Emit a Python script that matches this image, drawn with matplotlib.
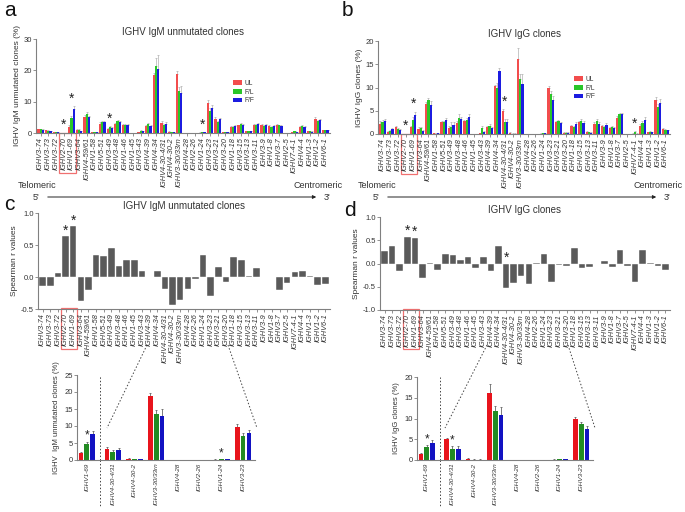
import numpy as np
import matplotlib
matplotlib.use('Agg')
import matplotlib.pyplot as plt
from matplotlib.patches import Rectangle
from matplotlib.lines import Line2D
import matplotlib.transforms as mtransforms

plt.rcParams['font.family'] = ['Liberation Sans', 'DejaVu Sans']

# Gene order, telomeric (5') -> centromeric (3')
genes = ['IGHV3-74', 'IGHV3-73', 'IGHV3-72', 'IGHV2-70', 'IGHV1-69', 'IGHV3-64',
         'IGHV4-59/61', 'IGHV1-58', 'IGHV5-51', 'IGHV3-49', 'IGHV3-48', 'IGHV1-46',
         'IGHV1-45', 'IGHV3-43', 'IGHV4-39', 'IGHV4-34', 'IGHV4-30-4/31', 'IGHV4-30-2',
         'IGHV3-30/33rn', 'IGHV4-28', 'IGHV2-26', 'IGHV1-24', 'IGHV3-23', 'IGHV3-21',
         'IGHV3-20', 'IGHV1-18', 'IGHV3-15', 'IGHV3-13', 'IGHV3-11', 'IGHV3-9',
         'IGHV1-8', 'IGHV3-7', 'IGHV2-5', 'IGHV7-4-1', 'IGHV4-4', 'IGHV1-3',
         'IGHV1-2', 'IGHV6-1']

# IgM unmutated clones (%)
igm_ul = [1.2, 0.8, 0.3, 0.1, 2.0, 1.0, 5.2, 0.2, 3.0, 1.3, 2.8, 2.5, 0.1, 0.2, 2.1,
          18.5, 3.3, 0.4, 18.8, 0.1, 0.1, 0.1, 9.6, 4.6, 0.3, 2.0, 2.4, 0.5, 2.6, 2.7,
          2.2, 2.5, 0.1, 0.2, 1.8, 0.5, 4.6, 0.8]
igm_fl = [1.2, 0.7, 0.2, 0.1, 4.8, 1.0, 6.2, 0.2, 3.5, 1.8, 3.8, 2.5, 0.0, 0.6, 2.8,
          21.5, 2.4, 0.2, 13.4, 0.1, 0.1, 0.2, 7.1, 3.5, 0.3, 2.0, 2.8, 0.5, 2.5, 2.1,
          1.9, 2.4, 0.1, 0.5, 2.2, 0.5, 3.7, 0.8]
igm_ff = [1.0, 0.6, 0.2, 0.1, 7.7, 0.5, 5.0, 0.2, 3.5, 1.6, 3.4, 2.5, 0.0, 0.5, 2.1,
          20.3, 2.8, 0.2, 12.9, 0.1, 0.1, 0.2, 7.9, 4.4, 0.3, 2.2, 2.6, 0.5, 3.0, 2.7,
          2.3, 2.3, 0.1, 0.3, 2.0, 0.4, 4.0, 0.9]
igm_ul_err = [0.2, 0.1, 0.1, 0, 0.4, 0.2, 0.5, 0.1, 0.4, 0.3, 0.4, 0.3, 0, 0.1, 0.3,
              0.8, 0.4, 0.1, 1.0, 0, 0, 0.1, 0.9, 0.4, 0.1, 0.3, 0.3, 0.1, 0.3, 0.3,
              0.3, 0.3, 0, 0.1, 0.3, 0.1, 0.5, 0.1]
igm_fl_err = [0.2, 0.1, 0.1, 0, 0.6, 0.2, 0.5, 0.1, 0.3, 0.3, 0.3, 0.3, 0, 0.2, 0.4,
              2.5, 0.4, 0.1, 1.4, 0, 0, 0.1, 0.8, 0.4, 0.1, 0.3, 0.3, 0.1, 0.3, 0.3,
              0.3, 0.3, 0, 0.1, 0.3, 0.1, 0.4, 0.1]
igm_ff_err = [0.2, 0.1, 0.1, 0, 0.9, 0.1, 0.5, 0.1, 0.3, 0.3, 0.3, 0.3, 0, 0.2, 0.3,
              4.5, 0.7, 0.1, 2.1, 0, 0, 0.1, 1.0, 0.4, 0.1, 0.3, 0.3, 0.1, 0.3, 0.3,
              0.3, 0.3, 0, 0.1, 0.3, 0.1, 0.4, 0.1]

# IgG clones (%)
igg_ul = [2.2, 0.4, 1.4, 0.1, 1.5, 1.1, 6.4, 0.2, 2.6, 1.3, 2.3, 2.8, 0.0, 0.2, 1.6,
          10.3, 5.0, 0.3, 16.1, 0.1, 0.1, 0.1, 9.9, 2.5, 0.3, 1.8, 2.6, 0.5, 2.2, 1.8,
          1.2, 3.5, 0.0, 0.1, 1.8, 0.4, 7.4, 1.1]
igg_fl = [2.5, 0.6, 1.0, 0.1, 3.1, 1.2, 7.3, 0.1, 2.6, 1.6, 3.5, 3.0, 0.0, 1.2, 1.8,
          9.8, 2.6, 0.1, 11.9, 0.1, 0.1, 0.2, 8.6, 2.7, 0.3, 1.6, 2.8, 0.4, 2.8, 1.6,
          1.5, 4.3, 0.0, 0.5, 2.3, 0.5, 5.7, 0.9]
igg_ff = [2.8, 1.0, 0.8, 0.1, 4.0, 0.6, 6.3, 0.2, 3.0, 2.0, 3.2, 3.6, 0.0, 0.5, 1.3,
          13.6, 2.6, 0.1, 10.8, 0.1, 0.1, 0.2, 7.4, 2.3, 0.3, 2.2, 2.4, 0.3, 2.2, 2.0,
          1.2, 4.2, 0.0, 0.1, 3.0, 0.4, 6.6, 0.8]
igg_ul_err = [0.5, 0.2, 0.4, 0, 0.3, 0.3, 0.4, 0.1, 0.3, 0.4, 0.4, 0.3, 0, 0.1, 0.2,
              0.3, 0.3, 0.1, 2.3, 0, 0, 0.1, 0.4, 0.3, 0.1, 0.2, 0.3, 0.2, 0.3, 0.2,
              0.2, 0.3, 0, 0.1, 0.3, 0.1, 0.6, 0.2]
igg_fl_err = [0.5, 0.2, 0.2, 0, 0.5, 0.2, 0.5, 0.1, 0.3, 0.9, 0.8, 0.4, 0, 0.5, 0.3,
              1.2, 0.7, 0.1, 1.0, 0, 0, 0.1, 0.6, 0.3, 0.1, 0.2, 0.4, 0.1, 0.4, 0.2,
              0.3, 0.3, 0, 0.1, 0.4, 0.1, 0.8, 0.1]
igg_ff_err = [0.5, 0.3, 0.2, 0, 0.8, 0.2, 0.8, 0.1, 0.4, 0.5, 0.5, 0.7, 0, 0.2, 0.2,
              0.6, 0.7, 0.1, 2.0, 0, 0, 0.1, 0.8, 0.2, 0.1, 0.3, 0.3, 0.1, 0.3, 0.4,
              0.2, 0.3, 0, 0.1, 0.6, 0.1, 1.0, 0.1]

# Spearman r values
r_igm = [-0.14, -0.14, 0.06, 0.64, 0.79, -0.37, -0.20, 0.34, 0.33, 0.45, 0.17, 0.27,
         0.26, 0.09, 0.0, 0.10, -0.18, -0.44, -0.36, -0.18, -0.03, 0.35, -0.30, 0.15,
         -0.08, 0.31, 0.27, 0.02, 0.14, 0.0, 0.0, -0.20, -0.10, 0.08, 0.09, 0.02,
         -0.12, -0.11]
r_igg = [0.27, 0.37, -0.17, 0.57, 0.55, -0.32, 0.02, -0.13, 0.21, 0.19, 0.07, 0.14,
         -0.10, 0.13, -0.17, 0.38, -0.53, -0.42, -0.26, -0.45, 0.02, 0.21, -0.40, -0.03,
         -0.05, 0.34, -0.10, -0.08, 0.0, 0.06, -0.07, 0.29, -0.06, -0.39, 0.30, 0.01,
         -0.06, -0.13]

# significance marks (gene indices)
stars_igm = [3, 4, 9, 21]
stars_igg = [3, 4, 16, 33]
stars_r_igm = [3, 4]
stars_r_igg = [3, 4, 16]

# zoomed genes for the bottom panels
zoom_idx = [4, 16, 17, 18, 19, 20, 21, 22]
zoom_stars_igm = [4, 21]
zoom_stars_igg = [4, 16]

top_colors = ['#f24d4d', '#29c629', '#1c1ce0']
low_colors = ['#e8141c', '#228b22', '#1212c2']
labels = ['UL', 'F/L', 'F/F']
spine_c = '#808080'
text_c = '#333333'

fig = plt.figure(figsize=(6.85, 5.12), dpi=100)
W, H = 685.0, 512.0


def px_axes(l, t, r, b):
    return fig.add_axes([l / W, 1 - b / H, (r - l) / W, (b - t) / H])


def style(ax, fs=5.5):
    for s in ['top', 'right']:
        ax.spines[s].set_visible(False)
    for s in ['left', 'bottom']:
        ax.spines[s].set_color(spine_c)
        ax.spines[s].set_linewidth(0.8)
    ax.tick_params(colors=spine_c, labelcolor=text_c, labelsize=fs, length=2, width=0.6, pad=1)


def grouped(ax, series, errs, colors, width, offs, x, ecol, capsize, lw):
    for k in range(3):
        ax.bar(x + offs[k], series[k], width, color=colors[k], label=labels[k], zorder=2)
        ax.errorbar(x + offs[k], series[k], yerr=[np.zeros(len(errs[k])), errs[k]],
                    fmt='none', ecolor=ecol, elinewidth=lw, capsize=capsize, capthick=lw, zorder=1)


def red_box(ax, y0, y1):
    tr = mtransforms.blended_transform_factory(ax.transData, ax.transAxes)
    ax.add_patch(Rectangle((2.45, y1), 2.1, y0 - y1, transform=tr, fill=False,
                           edgecolor='#f07070', lw=0.9, clip_on=False))


x = np.arange(len(genes))

# ---- panels a and b ----
top_specs = [
    (36, 39, 330, 133, [igm_ul, igm_fl, igm_ff], [igm_ul_err, igm_fl_err, igm_ff_err],
     30, [0, 10, 20, 30], 'IGHV IgM unmutated clones', 'IGHV IgM unmutated clones (%)',
     stars_igm, (0.66, 0.60)),
    (378, 41, 670, 134, [igg_ul, igg_fl, igg_ff], [igg_ul_err, igg_fl_err, igg_ff_err],
     20, [0, 5, 10, 15, 20], 'IGHV IgG clones', 'IGHV IgG clones (%)',
     stars_igg, (0.66, 0.66)),
]
for l, t, r, b, ser, err, ymax, yt, title, ylab, stars, legpos in top_specs:
    ax = px_axes(l, t, r, b)
    style(ax)
    grouped(ax, ser, err, top_colors, 0.29, [-0.29, 0, 0.29], x, '#b0b0b0', 0.8, 0.5)
    ax.set_xlim(-0.6, len(genes) - 0.4)
    ax.set_ylim(0, ymax)
    ax.set_yticks(yt)
    ax.set_xticks(x)
    ax.set_xticklabels(genes, rotation=90, style='italic', fontsize=5.3)
    ax.set_title(title, fontsize=7, color=text_c, pad=3)
    ax.set_ylabel(ylab, fontsize=6, color=text_c, labelpad=2)
    for i in stars:
        top = max(ser[k][i] + err[k][i] for k in range(3))
        ax.text(i, top + ymax * 0.005, '*', ha='center', va='bottom', fontsize=10, color='#222222')
    ax.legend(loc='upper left', bbox_to_anchor=legpos, frameon=False, fontsize=4.8,
              handlelength=1.3, handleheight=0.7, labelspacing=0.25, borderpad=0,
              handletextpad=0.4, labelcolor=text_c)
    red_box(ax, 0.0, -0.43)

# ---- panels c and d ----
r_specs = [
    (38, 213, 330, 309, r_igm, (-0.5, 1.0), [-0.5, 0.0, 0.5, 1.0], 'IGHV IgM unmutated clones', stars_r_igm),
    (380, 217, 670, 310, r_igg, (-1.0, 1.0), [-1.0, -0.5, 0.0, 0.5, 1.0], 'IGHV IgG clones', stars_r_igg),
]
for l, t, r, b, vals, ylim, yt, title, stars in r_specs:
    ax = px_axes(l, t, r, b)
    style(ax)
    ax.bar(x, vals, 0.86, color='#5a5a5a', edgecolor='white', linewidth=0.3)
    ax.set_xlim(-0.6, len(genes) - 0.4)
    ax.set_ylim(*ylim)
    ax.set_yticks(yt)
    ax.set_yticklabels(['%.1f' % v for v in yt])
    ax.set_xticks(x)
    ax.set_xticklabels(genes, rotation=90, style='italic', fontsize=5.3)
    ax.set_title(title, fontsize=7, color=text_c, pad=3)
    ax.set_ylabel('Spearman r values', fontsize=6, color=text_c, labelpad=2)
    for i in stars:
        yy = max(vals[i], 0) - 0.02
        ax.text(i, yy, '*', ha='center', va='bottom', fontsize=10, color='#222222')
    red_box(ax, 0.01, -0.42)

# ---- telomeric / centromeric arrows ----
for x0 in [0, 340]:
    fig.text((x0 + 18) / W, 1 - 185 / H, 'Telomeric', fontsize=6.5, color=text_c, va='center')
    fig.text((x0 + 343) / W, 1 - 185 / H, 'Centromeric', fontsize=6.5, color=text_c, va='center', ha='right')
    fig.text((x0 + 33) / W, 1 - 197 / H, "5'", fontsize=6.5, color=text_c, va='center')
    fig.text((x0 + 324) / W, 1 - 197 / H, "3'", fontsize=6.5, color=text_c, va='center')
    fig.add_artist(matplotlib.patches.FancyArrowPatch(
        ((x0 + 45) / W, 1 - 197 / H), ((x0 + 319) / W, 1 - 197 / H),
        transform=fig.transFigure, arrowstyle='-|>', mutation_scale=5, lw=0.7, color='#222222'))

# ---- panel labels ----
for lab, px, py in [('a', 4, 11), ('b', 342, 11), ('c', 4, 205), ('d', 344, 210)]:
    fig.text(px / W, 1 - py / H, lab, fontsize=15, va='center', color='#111111')

# ---- bottom zoom panels ----
zpos = np.array([0.0, 1.2, 2.2, 3.2, 4.2, 5.2, 6.2, 7.2])
zlabels = [genes[i] for i in zoom_idx]
bottom_specs = [
    (77, 375, 255, 460, [igm_ul, igm_fl, igm_ff], [igm_ul_err, igm_fl_err, igm_ff_err],
     25, [0, 5, 10, 15, 20, 25], 'IGHV  IgM unmutated clones (%)', zoom_stars_igm,
     [((147, 345), (107, 428)), ((228, 345), (257, 428))]),
    (417, 377, 593, 460, [igg_ul, igg_fl, igg_ff], [igg_ul_err, igg_fl_err, igg_ff_err],
     20, [0, 5, 10, 15, 20], 'IGHV IgG clones (%)', zoom_stars_igg,
     [((487, 345), (445, 428)), ((568, 345), (595, 428))]),
]
for l, t, r, b, ser, err, ymax, yt, ylab, stars, zlines in bottom_specs:
    ax = px_axes(l, t, r, b)
    style(ax, fs=5.5)
    zs = [[s[i] for i in zoom_idx] for s in ser]
    ze = [[e[i] for i in zoom_idx] for e in err]
    grouped(ax, zs, ze, low_colors, 0.22, [-0.27, 0, 0.27], zpos, '#666666', 1.0, 0.6)
    ax.set_xlim(-0.45, 7.75)
    ax.set_ylim(0, ymax)
    ax.set_yticks(yt)
    ax.set_xticks(zpos)
    ax.set_xticklabels(zlabels, rotation=90, style='italic', fontsize=4.6)
    ax.tick_params(axis='x', length=0, pad=2)
    ax.set_ylabel(ylab, fontsize=5.5, color=text_c, labelpad=3)
    ax.axvline(0.6, ymin=0, ymax=1, color='#444444', ls=(0, (1.5, 2)), lw=0.7)
    ax.plot([0.6, 0.6], [0, -0.55], transform=mtransforms.blended_transform_factory(ax.transData, ax.transAxes),
            color='#444444', ls=(0, (1.5, 2)), lw=0.7, clip_on=False)
    for i in stars:
        j = zoom_idx.index(i)
        top = ser[1][i] + err[1][i]
        ax.text(zpos[j], top, '*', ha='center', va='bottom', fontsize=8.5, color='#222222')
    for (p0, p1) in zlines:
        fig.add_artist(Line2D([p0[0] / W, p1[0] / W], [1 - p0[1] / H, 1 - p1[1] / H],
                              transform=fig.transFigure, color='#444444', lw=0.7, ls=(0, (1.5, 2))))

fig.savefig('out.png', dpi=100)
